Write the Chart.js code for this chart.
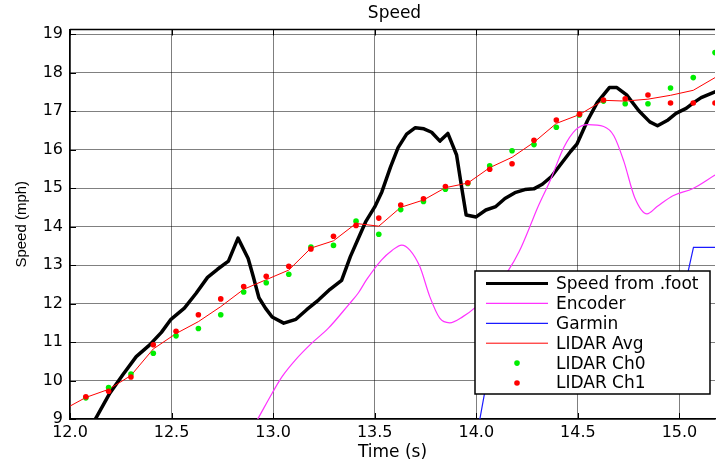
<!DOCTYPE html>
<html>
<head>
<meta charset="utf-8">
<title>Speed</title>
<script src="https://cdn.jsdelivr.net/npm/chart.js@4.4.0/dist/chart.umd.min.js"></script>
<style>
  html, body { margin: 0; padding: 0; background: #fff; }
  canvas { display: block; }
</style>
</head>
<body>
<canvas id="speedChart" width="719" height="461"></canvas>
<script>
// Speed from .foot
const footT = [12.09, 12.122, 12.196, 12.26, 12.326, 12.391, 12.45, 12.497, 12.563, 12.62,
    12.677, 12.726, 12.78, 12.827, 12.877, 12.902, 12.93, 12.962, 12.995, 13.052,
    13.112, 13.165, 13.223, 13.28, 13.337, 13.38, 13.425, 13.455, 13.5, 13.535,
    13.578, 13.615, 13.657, 13.7, 13.742, 13.78, 13.821, 13.86, 13.903, 13.927,
    13.95, 13.999, 14.047, 14.096, 14.141, 14.19, 14.239, 14.283, 14.325, 14.37,
    14.413, 14.464, 14.495, 14.547, 14.595, 14.655, 14.692, 14.74, 14.8, 14.854,
    14.892, 14.944, 14.983, 15.033, 15.07, 15.107, 15.175];
const footV = [8.68, 8.97, 9.67, 10.15, 10.62, 10.92, 11.25, 11.59, 11.88, 12.26,
    12.68, 12.89, 13.1, 13.7, 13.17, 12.7, 12.15, 11.88, 11.65, 11.49,
    11.59, 11.84, 12.09, 12.37, 12.6, 13.22, 13.76, 14.12, 14.51, 14.9,
    15.55, 16.05, 16.4, 16.57, 16.54, 16.45, 16.22, 16.42, 15.86, 15.05,
    14.3, 14.25, 14.43, 14.52, 14.73, 14.88, 14.96, 14.98, 15.1, 15.3,
    15.6, 15.95, 16.14, 16.75, 17.22, 17.61, 17.61, 17.42, 17.01, 16.72,
    16.62, 16.77, 16.94, 17.07, 17.22, 17.35, 17.5];

// Encoder
const encT = [12.88, 12.921, 12.995, 13.044, 13.109, 13.19, 13.272, 13.37, 13.42, 13.46,
    13.533, 13.585, 13.633, 13.673, 13.722, 13.771, 13.82, 13.869, 13.934, 14.0,
    14.08, 14.154, 14.211, 14.277, 14.3, 14.365, 14.43, 14.49, 14.55, 14.627,
    14.677, 14.726, 14.78, 14.84, 14.89, 14.968, 15.067, 15.175];
const encV = [8.6, 8.97, 9.67, 10.1, 10.53, 10.97, 11.36, 11.96, 12.28, 12.62,
    13.13, 13.38, 13.52, 13.39, 12.96, 12.18, 11.62, 11.5, 11.66, 11.92,
    12.35, 12.83, 13.35, 14.17, 14.47, 15.21, 16.05, 16.52, 16.65, 16.6,
    16.36, 15.7, 14.75, 14.33, 14.52, 14.8, 14.99, 15.34];

// Garmin
const garminT = [13.99, 14.09, 14.97, 15.069, 15.175];
const garminV = [8.2, 11.1, 11.1, 13.46, 13.46];

// LIDAR channels
const lidarT = [12.078, 12.19, 12.3, 12.41, 12.522, 12.632, 12.742, 12.855, 12.966, 13.077,
    13.186, 13.297, 13.408, 13.52, 13.628, 13.74, 13.848, 13.958, 14.066, 14.176,
    14.284, 14.394, 14.508, 14.626, 14.733, 14.845, 14.956, 15.068, 15.175];
const ch0 = [9.55, 9.82, 10.17, 10.71, 11.16, 11.35, 11.71, 12.3, 12.54, 12.76,
    13.47, 13.51, 14.14, 13.8, 14.44, 14.65, 14.97, 15.12, 15.58, 15.97,
    16.13, 16.58, 16.9, 17.26, 17.19, 17.19, 17.6, 17.87, 18.52];
const ch1 = [9.58, 9.72, 10.09, 10.93, 11.28, 11.71, 12.12, 12.44, 12.71, 12.97,
    13.42, 13.75, 14.03, 14.22, 14.56, 14.72, 15.04, 15.14, 15.49, 15.63,
    16.24, 16.77, 16.92, 17.29, 17.32, 17.42, 17.21, 17.21, 17.21];

// LIDAR Avg
const avgT = [11.967, 12.078, 12.19, 12.3, 12.41, 12.522, 12.632, 12.742, 12.855, 12.966,
    13.077, 13.186, 13.297, 13.408, 13.52, 13.628, 13.74, 13.848, 13.958, 14.066,
    14.176, 14.284, 14.394, 14.508, 14.626, 14.733, 14.845, 14.956, 15.068, 15.175];
const lidarAvg = [9.24, 9.56, 9.77, 10.13, 10.82, 11.22, 11.53, 11.92, 12.37, 12.62,
    12.87, 13.44, 13.63, 14.08, 14.01, 14.5, 14.69, 15.01, 15.13, 15.53,
    15.8, 16.19, 16.68, 16.91, 17.28, 17.26, 17.31, 17.41, 17.54, 17.87];

function pts(xs, ys) {
    return xs.map((x, i) => ({ x: x, y: ys[i] }));
}

// box, inward ticks, title and the legend
const framePlugin = {
    id: 'frame',
    afterDraw(chart) {
        const { ctx, chartArea: a, scales } = chart;
        ctx.save();
        ctx.strokeStyle = '#000';
        ctx.lineWidth = 1.5;
        ctx.beginPath();
        ctx.moveTo(a.left, a.top);
        ctx.lineTo(a.right, a.top);
        ctx.stroke();

        ctx.lineWidth = 1;
        ctx.beginPath();
        scales.y.ticks.forEach(t => {
            const py = Math.round(scales.y.getPixelForValue(t.value)) + 0.5;
            ctx.moveTo(a.left, py);
            ctx.lineTo(a.left + 6, py);
        });
        scales.x.ticks.forEach(t => {
            const px = Math.round(scales.x.getPixelForValue(t.value)) + 0.5;
            ctx.moveTo(px, a.bottom);
            ctx.lineTo(px, a.bottom - 6);
            ctx.moveTo(px, a.top);
            ctx.lineTo(px, a.top + 6);
        });
        ctx.stroke();

        // title
        ctx.fillStyle = '#000';
        ctx.font = '17px "DejaVu Sans"';
        ctx.textAlign = 'center';
        ctx.textBaseline = 'middle';
        ctx.fillText('Speed', (a.left + a.right) / 2 + 2, 14);

        // legend
        const bw = 235, bh = 123;
        const bx = a.right - 240, by = a.bottom - 148;
        ctx.fillStyle = '#fff';
        ctx.fillRect(bx, by, bw, bh);
        ctx.lineWidth = 1.5;
        ctx.strokeStyle = '#000';
        ctx.strokeRect(bx, by, bw, bh);

        ctx.textAlign = 'left';
        chart.data.datasets.forEach((ds, i) => {
            const cy = by + 12.5 + i * 19.9;
            if (ds.showLine === false) {
                ctx.fillStyle = ds.pointBackgroundColor;
                ctx.beginPath();
                ctx.arc(bx + 42, cy, 2.8, 0, Math.PI * 2);
                ctx.fill();
            } else {
                ctx.strokeStyle = ds.borderColor;
                ctx.lineWidth = Math.min(ds.borderWidth, 3);
                ctx.beginPath();
                ctx.moveTo(bx + 11, cy);
                ctx.lineTo(bx + 73, cy);
                ctx.stroke();
            }
            ctx.fillStyle = '#000';
            ctx.fillText(ds.label, bx + 81, cy + 1);
        });
        ctx.restore();
    }
};

const tickFont = { family: 'DejaVu Sans', size: 16 };

const ctx = document.getElementById('speedChart').getContext('2d');
const speedChart = new Chart(ctx, {
    type: 'line',
    data: {
        datasets: [
            { label: 'Speed from .foot', data: pts(footT, footV), borderColor: '#000000', borderWidth: 3.5,
              pointRadius: 0, borderJoinStyle: 'round', borderCapStyle: 'round', order: 6 },
            { label: 'Encoder', data: pts(encT, encV), borderColor: '#ff33ff', borderWidth: 1.2,
              pointRadius: 0, cubicInterpolationMode: 'monotone', order: 5 },
            { label: 'Garmin', data: pts(garminT, garminV), borderColor: '#1a1aff', borderWidth: 1.2,
              pointRadius: 0, order: 4 },
            { label: 'LIDAR Avg', data: pts(avgT, lidarAvg), borderColor: '#ff0000', borderWidth: 1,
              pointRadius: 0, order: 3 },
            { label: 'LIDAR Ch0', data: pts(lidarT, ch0), showLine: false, pointRadius: 2.8,
              pointBorderWidth: 0, pointBackgroundColor: '#00ee00', backgroundColor: '#00ee00', order: 2 },
            { label: 'LIDAR Ch1', data: pts(lidarT, ch1), showLine: false, pointRadius: 2.8,
              pointBorderWidth: 0, pointBackgroundColor: '#ff0000', backgroundColor: '#ff0000', order: 1 }
        ]
    },
    options: {
        responsive: false,
        animation: false,
        layout: { padding: { top: 29.5, right: 0, bottom: 0, left: 0 } },
        plugins: {
            legend: { display: false },
            tooltip: { enabled: false },
            title: { display: false }
        },
        scales: {
            x: {
                type: 'linear',
                min: 12,
                max: 15.175,
                afterFit: s => { s.height = 42; },
                ticks: { stepSize: 0.5, includeBounds: false, color: '#000', font: tickFont, padding: 4, maxRotation: 0 },
                grid: { color: '#000', lineWidth: 1, drawTicks: false },
                border: { color: '#000', width: 1.5, dash: [1, 1] },
                title: { display: true, text: 'Time (s)', color: '#000',
                         font: { family: 'DejaVu Sans', size: 17, lineHeight: 1 }, padding: { top: 0, bottom: 0 } }
            },
            y: {
                min: 9,
                max: 19.12,
                afterFit: s => { s.width = 70; },
                ticks: { stepSize: 1, includeBounds: false, color: '#000', font: tickFont, padding: 7 },
                grid: { color: '#000', lineWidth: 1, drawTicks: false },
                border: { color: '#000', width: 1.5, dash: [1, 1] },
                title: { display: true, text: 'Speed (mph)', color: '#000',
                         font: { family: 'Liberation Sans', size: 15, lineHeight: 1.2 }, padding: { top: 13, bottom: 0 } }
            }
        }
    },
    plugins: [framePlugin]
});
</script>
</body>
</html>
